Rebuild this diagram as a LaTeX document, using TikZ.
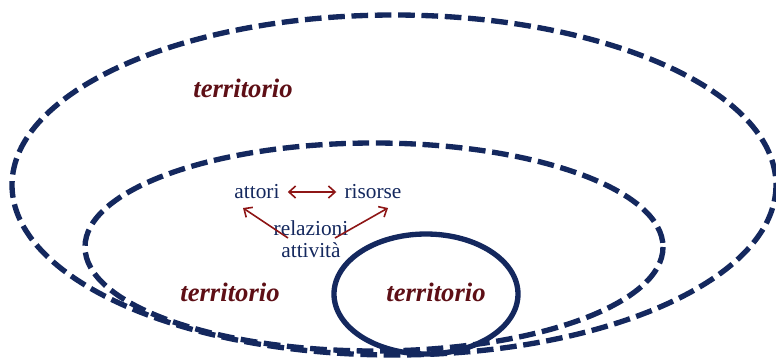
\documentclass[tikz,border=0pt]{standalone}
\usepackage{fontspec}
\setmainfont{Liberation Serif}
\usetikzlibrary{arrows.meta}
\definecolor{navy}{HTML}{14285E}
\definecolor{wine}{HTML}{5E0F16}
\definecolor{arrowred}{HTML}{8E1616}
\begin{document}
\begin{tikzpicture}[x=0.75pt,y=-0.75pt,
  ring/.style={draw=navy,line width=4pt},
  dashring/.style={ring,dash pattern=on 12.5pt off 5pt},
  place/.style={text=wine,font=\bfseries\itshape\fontsize{20}{22}\selectfont,inner sep=0pt},
  word/.style={text=navy,font=\fontsize{16}{18}\selectfont,inner sep=0pt},
  barb/.tip={Straight Barb[length=5pt,width=9pt]},
  link/.style={draw=arrowred,line width=1.2pt,-barb}]
\useasboundingbox (0,0) rectangle (776,358);
% outer territory
\draw[dashring] (394,185) ellipse [x radius=382, y radius=170];
% middle territory
\draw[dashring] (374,247) ellipse [x radius=289, y radius=104];
% inner territory
\draw[ring] (426,294) ellipse [x radius=92, y radius=60];
% labels
\node[place] (t1) at (243,88) {territorio};
\node[place] (t2) at (230,292) {territorio};
\node[place] (t3) at (436,292) {territorio};
\node[word] (att) at (257,192) {attori};
\node[word] (ris) at (373,192) {risorse};
\node[word] (rel) at (311,228) {relazioni};
\node[word] (atv) at (311,250) {attività};
% relations
\coordinate (la) at (288,238);
\coordinate (ra) at (335,238);
\coordinate (lt) at (243,208);
\coordinate (rt) at (388,208);
\draw[link,barb-barb] ([xshift=6]att.east) -- ([xshift=-6]ris.west);
\draw[link] (la) -- (lt);
\draw[link] (ra) -- (rt);
\end{tikzpicture}
\end{document}
